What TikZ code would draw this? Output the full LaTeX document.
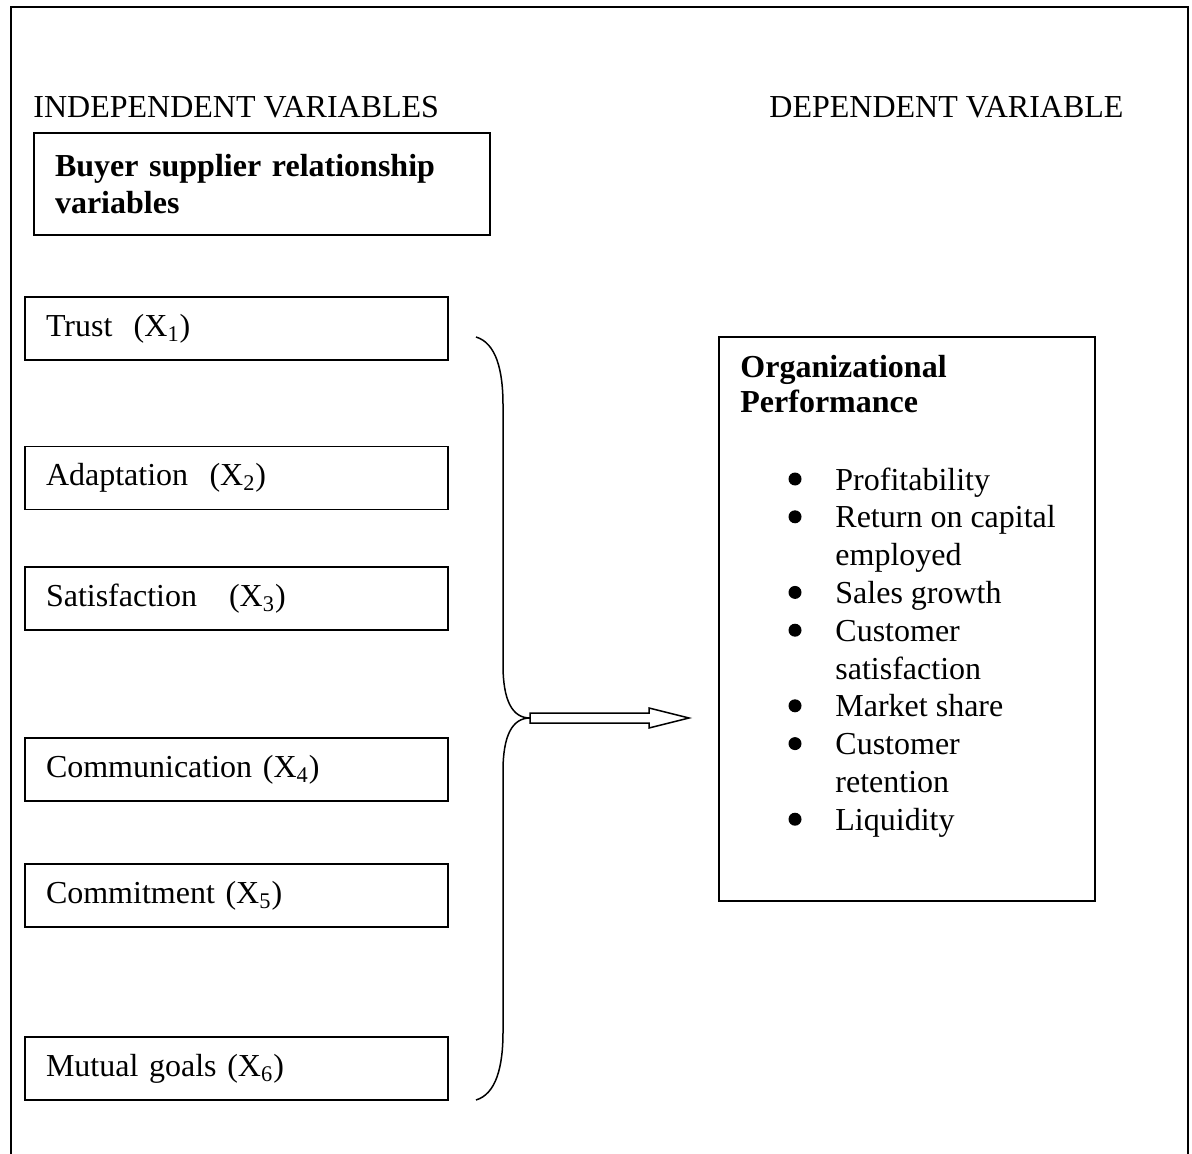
\documentclass[tikz,border=0pt]{standalone}
\usepackage{fontspec}
\setmainfont{Liberation Serif}
\usetikzlibrary{positioning}

\newcommand{\diagfont}{\fontsize{16}{18.5}\selectfont}

\tikzset{
  varbox/.style={draw, line width=0.75pt, minimum width=211.5pt, minimum height=31.5pt,
    text width=190.5pt, inner xsep=10.5pt, inner ysep=0pt, align=left},
  headbox/.style={draw, line width=0.75pt, minimum width=228pt, minimum height=51pt,
    text width=207pt, inner xsep=10.5pt, inner ysep=0pt, align=left, font=\diagfont\bfseries},
  label/.style={anchor=base west, inner sep=0pt},
  dot/.style={circle, fill=black, inner sep=0pt, minimum size=6.5pt}
}

\begin{document}
\begin{tikzpicture}[x=0.5pt, y=-0.5pt, font=\diagfont]
  \useasboundingbox (0,0) rectangle (1192,1154);
  % outer frame, open at the bottom
  \draw[line width=1pt] (11,1154) -- (11,7) -- (1188,7) -- (1188,1154);

  \node[label] (indep) at (33,118) {INDEPENDENT VARIABLES};
  \node[label] (dep) at (769,118) {DEPENDENT VARIABLE};

  \node[headbox] (buyer) at (262,184) {Buyer supplier relationship\\variables};

  % independent variables
  \node[varbox] (trust) at (236.5,328.5) {Trust\ \ (X\textsubscript{1})};
  \node[varbox] (adapt) at (236.5,478) {Adaptation\ \ (X\textsubscript{2})};
  \node[varbox] (satis) at (236.5,598.5) {Satisfaction\ \ \ (X\textsubscript{3})};
  \node[varbox] (comm) at (236.5,769.5) {Communication (X\textsubscript{4})};
  \node[varbox] (commit) at (236.5,895.5) {Commitment (X\textsubscript{5})};
  \node[varbox] (goals) at (236.5,1068.5) {Mutual goals (X\textsubscript{6})};

  % brace
  \coordinate (tip) at (530,718);
  \draw[line width=0.75pt] (476,337) .. controls (496,343) and (503,370) .. (503,405)
    -- (503,665) .. controls (503,700) and (512,718) .. (tip)
    .. controls (512,718) and (503,736) .. (503,771)
    -- (503,1032) .. controls (503,1067) and (496,1094) .. (476,1100);

  % hollow arrow
  \draw[line width=0.75pt] (tip) ++(0,-5) -- ++(119,0) -- ++(0,-5) -- ++(40,10)
    -- ++(-40,10) -- ++(0,-5) -- ++(-119,0) -- cycle;

  % dependent variable
  \node[draw, line width=0.75pt, minimum width=188pt, minimum height=282pt] (perf) at (907,619) {};
  \node[label, font=\diagfont\bfseries] (title1) at (740,378) {Organizational};
  \node[label, font=\diagfont\bfseries] (title2) at (740,413) {Performance};

  \foreach \k/\lbl in {0/Profitability, 1/Return on capital, 2/employed, 3/Sales growth,
      4/Customer, 5/satisfaction, 6/Market share, 7/Customer, 8/retention, 9/Liquidity}
    \node[label] (line\k) at (835,{490+37.8*\k}) {\lbl};
  \foreach \k in {0,1,3,4,6,7,9}
    \node[dot] (dot\k) at (795,{479+37.8*\k}) {};
\end{tikzpicture}
\end{document}
